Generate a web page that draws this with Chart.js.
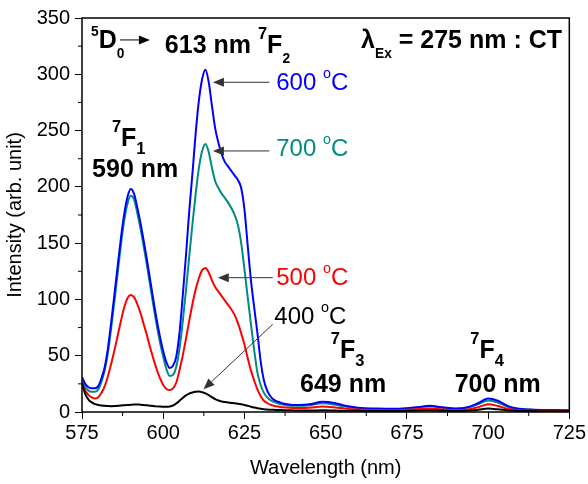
<!DOCTYPE html>
<html>
<head>
<meta charset="utf-8">
<script src="https://cdn.jsdelivr.net/npm/chart.js@4.4.0/dist/chart.umd.min.js"></script>
<style>
  body { margin:0; background:#fff; }
  #wrap { width:588px; height:484px; }
</style>
</head>
<body>
<div id="wrap"><canvas id="c" width="588" height="484"></canvas></div>
<script>
/* ------- DATA ------- */
const wavelength = [575,576,577,578,579,580,581,582,583,584,585,586,587,588,589,590,591,592,593,594,
  595,596,597,598,599,600,601,602,603,604,605,606,607,608,609,610,611,612,613,614,
  615,616,617,618,619,620,621,622,623,624,625,626,627,628,629,630,631,632,633,634,
  635,636,637,638,639,640,642,645,649,653,656,660,666,672,678,682,686,690,694,697,
  700,703,706,709,713,720,725];

const t600 = [31,25,22,21,21,23,30,40,57,80,105,130,155,176,191,198,194,182,168,152,
  135,117,99,82,67,54,44,39,41,49,70,103,139,178,212,248,277,296,304,293,
  272,252,239,229,222,218,214,210,206,199,180,148,117,93,70,45,28,19,14,11,
  9.5,8.5,7.5,7,6.5,6.2,6.2,6.8,9,7.8,5.5,3.8,3,2.8,4.2,5.5,4.2,3,4.5,8,
  12,10,5.5,3.2,2.2,1.7,1.5];

const t700 = [27,22,19,18,18,20,27,37,53,75,99,124,149,170,185,192,189,177,163,147,
  130,112,94,77,62,49,38,32,33,40,56,80,108,138,167,194,217,232,238,231,
  217,205,199,194,190,186,181,175,166,150,127,102,78,55,35,24,17,13,10.5,9,
  8,7,6.5,6,5.7,5.5,5.5,6,7.8,6.5,4.8,3.3,2.7,2.6,4,5.2,3.8,2.7,4,7,
  10.3,8.5,4.6,2.7,1.9,1.5,1.4];

const t500 = [25,19,15,13,12,13,17,23,32,43,55,68,81,93,101,104,102,96,88,78,
  68,57,47,38,30,24,20.5,19.5,21,26,37,50,65,81,96,109,119,126,128,124,
  117,111,107,103,99,95,91,86,79,70,60,48,37,28,20,14,10,8,6.5,5.5,
  5,4.5,4.2,4,3.8,3.6,3.5,3.8,4.8,4,3,2.2,1.7,1.6,2.5,3.2,2.3,1.6,2.3,4.3,
  6.8,5.3,2.8,1.6,1.2,1,1];

const t400 = [26,16,11,8.5,7,6.3,5.8,5.5,5.3,5.2,5.3,5.5,5.8,6,6.2,6.4,6.6,6.7,6.5,6.2,
  5.9,5.6,5.3,5,4.8,4.7,4.6,4.9,5.8,7.5,10,12.5,14.8,16.4,17.4,18,18.2,17.6,16.5,15,
  13.2,11.5,10.2,9.3,8.8,8.4,8.1,7.8,7.4,6.9,6.3,5.5,4.7,4,3.4,2.9,2.5,2.2,2,1.9,
  1.8,1.7,1.6,1.5,1.5,1.4,1.3,1.3,1.5,1.3,1.1,1,0.9,0.9,1.2,1.5,1.1,0.9,1.2,2,
  3,2.4,1.4,0.9,0.8,0.7,0.7];

const xTicks = [575,600,625,650,675,700,725];
const yTicks = [0,50,100,150,200,250,300,350];

/* ------- ANNOTATIONS (data units) ------- */
const FONT = '"Liberation Sans", Arial, sans-serif';
const notes = [
  { x:584.2, y:236.3, bold:true, color:"#000", parts:[["7","sup"],["F"],["1","sub"]] },
  { x:578.1, y:208.8, bold:true, color:"#000", parts:[["590 nm"]] },
  { x:577.8, y:323.4, bold:true, color:"#000", parts:[["5","sup2"],["D"],["0","sub2"]] },
  { x:600.5, y:318.9, bold:true, color:"#000", parts:[["613 nm "],["7","sup"],["F"],["2","sub2"]] },
  { x:660.9, y:323.4, bold:true, color:"#000", parts:[["λ"],["Ex","sub2"],[" = 275 nm : CT"]] },
  { x:651.6, y:48, bold:true, color:"#000", parts:[["7","sup"],["F"],["3","sub"]] },
  { x:642.1, y:18, bold:true, color:"#000", parts:[["649 nm"]] },
  { x:694.5, y:48, bold:true, color:"#000", parts:[["7","sup"],["F"],["4","sub"]] },
  { x:689.7, y:18, bold:true, color:"#000", parts:[["700 nm"]] },
  { x:634.8, y:286.0, bold:false, color:"#0000ff", parts:[["600 "],["o","deg"],["C"]] },
  { x:634.8, y:227.7, bold:false, color:"#008a80", parts:[["700 "],["o","deg"],["C"]] },
  { x:634.8, y:112.8, bold:false, color:"#ff0000", parts:[["500 "],["o","deg"],["C"]] },
  { x:634.2, y:78.2, bold:false, color:"#000", parts:[["400 "],["o","deg"],["C"]] }
];
const arrows = [
  { from:[586.7,330.5], to:[595.9,330.5], color:"#000" },
  { from:[632.7,292.9], to:[615.3,292.9], color:"#333" },
  { from:[632.7,231.9], to:[615.3,231.9], color:"#333" },
  { from:[633.7,119.3], to:[616.8,119.3], color:"#333" },
  { from:[633.7,77.9], to:[612.4,20.2], color:"#333" }
];

const partStyle = {
  "":     { s:1,    dy:0 },
  sup:    { s:0.66, dy:-0.56 },
  sub:    { s:0.66, dy:0.32 },
  sup2:   { s:0.55, dy:-0.48 },
  sub2:   { s:0.55, dy:0.4 },
  deg:    { s:0.6,  dy:-0.5 }
};

function richText(ctx, x, y, n){
  const size = n.bold ? 25 : 24;
  ctx.fillStyle = n.color;
  ctx.textAlign = "left";
  ctx.textBaseline = "alphabetic";
  n.parts.forEach(p=>{
    const st = partStyle[p[1] || ""];
    ctx.font = (n.bold ? "bold " : "") + (size*st.s) + "px " + FONT;
    ctx.fillText(p[0], x, y + st.dy*size);
    x += ctx.measureText(p[0]).width;
  });
}

function drawArrow(ctx, x1, y1, x2, y2, color){
  const a = Math.atan2(y2-y1, x2-x1), L = 11, W = 4.5;
  ctx.strokeStyle = color; ctx.fillStyle = color; ctx.lineWidth = 1;
  ctx.beginPath();
  ctx.moveTo(x1, y1);
  ctx.lineTo(x2 - L*Math.cos(a), y2 - L*Math.sin(a));
  ctx.stroke();
  ctx.beginPath();
  ctx.moveTo(x2, y2);
  ctx.lineTo(x2 - L*Math.cos(a) + W*Math.sin(a), y2 - L*Math.sin(a) - W*Math.cos(a));
  ctx.lineTo(x2 - L*Math.cos(a) - W*Math.sin(a), y2 - L*Math.sin(a) + W*Math.cos(a));
  ctx.closePath();
  ctx.fill();
}

/* ------- PLUGIN: frame, minor ticks, labels ------- */
const decor = {
  id: "decor",
  afterDraw(chart){
    const {ctx, chartArea:a, scales:{x, y}} = chart;
    ctx.save();
    ctx.strokeStyle = "#000";
    ctx.lineWidth = 1.5;
    ctx.strokeRect(a.left, a.top, a.right - a.left, a.bottom - a.top);

    // minor ticks
    ctx.lineWidth = 1;
    ctx.beginPath();
    for(let i = 0; i < xTicks.length - 1; i++){
      const px = x.getPixelForValue((xTicks[i] + xTicks[i+1]) / 2);
      ctx.moveTo(px, a.bottom); ctx.lineTo(px, a.bottom + 4);
    }
    for(let i = 0; i < yTicks.length - 1; i++){
      const py = y.getPixelForValue((yTicks[i] + yTicks[i+1]) / 2);
      ctx.moveTo(a.left, py); ctx.lineTo(a.left - 4, py);
    }
    ctx.stroke();

    arrows.forEach(r=>{
      drawArrow(ctx, x.getPixelForValue(r.from[0]), y.getPixelForValue(r.from[1]),
        x.getPixelForValue(r.to[0]), y.getPixelForValue(r.to[1]), r.color);
    });
    notes.forEach(n=>richText(ctx, x.getPixelForValue(n.x), y.getPixelForValue(n.y), n));
    ctx.restore();
  }
};

function series(vals){
  return vals.map((v, i)=>({ x: wavelength[i], y: v }));
}

Chart.defaults.font.family = FONT;
Chart.defaults.color = "#000";

new Chart(document.getElementById("c"), {
  type: "line",
  data: {
    datasets: [
      { label:"400 °C", data: series(t400), borderColor:"#000000" },
      { label:"500 °C", data: series(t500), borderColor:"#ff0000" },
      { label:"600 °C", data: series(t600), borderColor:"#0000ff" },
      { label:"700 °C", data: series(t700), borderColor:"#008a80" }
    ]
  },
  options: {
    responsive: false,
    animation: false,
    layout: { padding: { top:18, right:17, left:0, bottom:0 } },
    elements: {
      point: { radius:0 },
      line: { borderWidth:2, cubicInterpolationMode:"monotone" }
    },
    plugins: { legend:{ display:false }, tooltip:{ enabled:false } },
    scales: {
      x: {
        type: "linear", min:575, max:725,
        afterBuildTicks: s=>{ s.ticks = xTicks.map(v=>({ value:v })); },
        afterFit: s=>{ s.height = 72; },
        ticks: { font:{ size:20 }, padding:2, maxRotation:0 },
        grid: { drawOnChartArea:false, drawTicks:true, tickLength:7, color:"#000" },
        border: { display:false },
        title: { display:true, text:"Wavelength (nm)", font:{ size:20 }, padding:{ top:0, bottom:4 } }
      },
      y: {
        type: "linear", min:0, max:350,
        afterBuildTicks: s=>{ s.ticks = yTicks.map(v=>({ value:v })); },
        afterFit: s=>{ s.width = 82; },
        ticks: { font:{ size:20 }, padding:5 },
        grid: { drawOnChartArea:false, drawTicks:true, tickLength:7, color:"#000" },
        border: { display:false },
        title: { display:true, text:"Intensity (arb. unit)", font:{ size:20 }, padding:{ top:3, bottom:0 } }
      }
    }
  },
  plugins: [decor]
});
</script>
</body>
</html>
